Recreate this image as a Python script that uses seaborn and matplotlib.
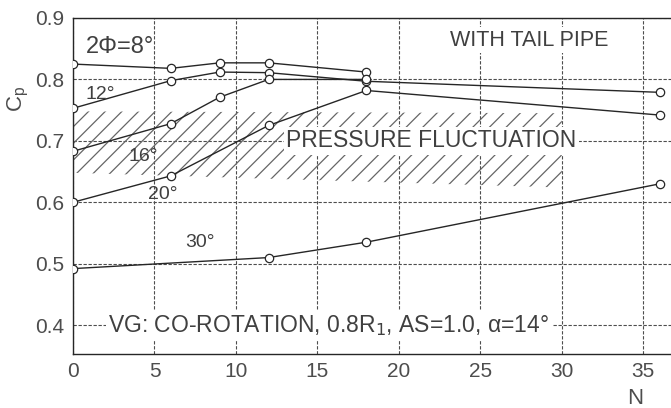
import matplotlib
matplotlib.use('Agg')
import matplotlib.pyplot as plt
import seaborn as sns
import pandas as pd

# curves: N vs Cp for each diffuser angle 2*phi
n_8 = [0, 6, 9, 12, 18]
cp_8 = [0.825, 0.818, 0.827, 0.827, 0.812]
n_12 = [0, 6, 9, 12, 18, 36]
cp_12 = [0.753, 0.798, 0.812, 0.811, 0.797, 0.779]
n_16 = [0, 6, 9, 12, 18]
cp_16 = [0.683, 0.728, 0.771, 0.800, 0.800]
n_20 = [0, 6, 12, 18, 36]
cp_20 = [0.600, 0.643, 0.725, 0.782, 0.742]
n_30 = [0, 12, 18, 36]
cp_30 = [0.492, 0.510, 0.535, 0.630]

# pressure fluctuation band
band_n = [0, 30]
band_hi = [0.748, 0.745]
band_lo = [0.648, 0.624]

curves = {'8': (n_8, cp_8), '12': (n_12, cp_12), '16': (n_16, cp_16),
          '20': (n_20, cp_20), '30': (n_30, cp_30)}

sns.set_style('white')
plt.rcParams['font.family'] = ['Liberation Sans', 'DejaVu Sans']
plt.rcParams['hatch.linewidth'] = 0.9
plt.rcParams['hatch.color'] = '0.35'

fig = plt.figure(figsize=(6.71, 4.08), dpi=100)
ax = fig.add_axes([73/671, 1-354/408, 1-73/671, 336/408])

ink = '0.15'
ax.fill_between(band_n, band_lo, band_hi, facecolor='none', edgecolor='0.4',
                hatch='//', linewidth=0, zorder=1)

for key, (nn, cc) in curves.items():
    df = pd.DataFrame({'N': nn, 'Cp': cc})
    sns.lineplot(data=df, x='N', y='Cp', ax=ax, color=ink, lw=1.0, sort=False,
                 estimator=None, marker='o', markersize=6, markerfacecolor='white',
                 markeredgecolor=ink, markeredgewidth=0.9, zorder=3)

ax.set_xlim(0, 36.7)
ax.set_ylim(0.353, 0.9)
ax.set_xticks([0, 5, 10, 15, 20, 25, 30, 35])
ax.set_yticks([0.4, 0.5, 0.6, 0.7, 0.8, 0.9])
ax.set_yticklabels(['0.4', '0.5', '0.6', '0.7', '0.8', '0.9'])
ax.grid(True, color='0.3', ls=(0, (3, 1.5)), lw=0.8)
ax.tick_params(direction='inout', length=8, width=0.9, colors=ink,
               labelsize=15, labelcolor='0.3', pad=2)
for s in ['left', 'bottom', 'top']:
    ax.spines[s].set_color(ink)
    ax.spines[s].set_linewidth(1.0)
ax.spines['right'].set_visible(False)

ax.set_xlabel('N', fontsize=16, color='0.3')
ax.xaxis.set_label_coords(0.94, -0.10)
ax.set_ylabel('C$_\\mathregular{p}$', fontsize=16, color='0.3')
ax.yaxis.set_label_coords(-0.07, 0.76)

txt = dict(color='0.25', ha='center', va='center', zorder=4)
ax.text(2.9, 0.853, '2Φ=8°', fontsize=17, **txt)
ax.text(1.7, 0.776, '12°', fontsize=14, **txt)
ax.text(4.3, 0.674, '16°', fontsize=14, **txt)
ax.text(5.5, 0.612, '20°', fontsize=14, **txt)
ax.text(7.8, 0.534, '30°', fontsize=14, **txt)
box = dict(facecolor='white', edgecolor='none', pad=2)
ax.text(28.0, 0.864, 'WITH TAIL PIPE', fontsize=15.5, bbox=box, **txt)
ax.text(22.0, 0.70, 'PRESSURE FLUCTUATION', fontsize=16.5, bbox=box, **txt)
ax.text(15.7, 0.40, 'VG: CO-ROTATION, 0.8R$_1$, AS=1.0, α=14°', fontsize=16.5,
        bbox=box, **txt)

fig.savefig('out.png', dpi=100)
